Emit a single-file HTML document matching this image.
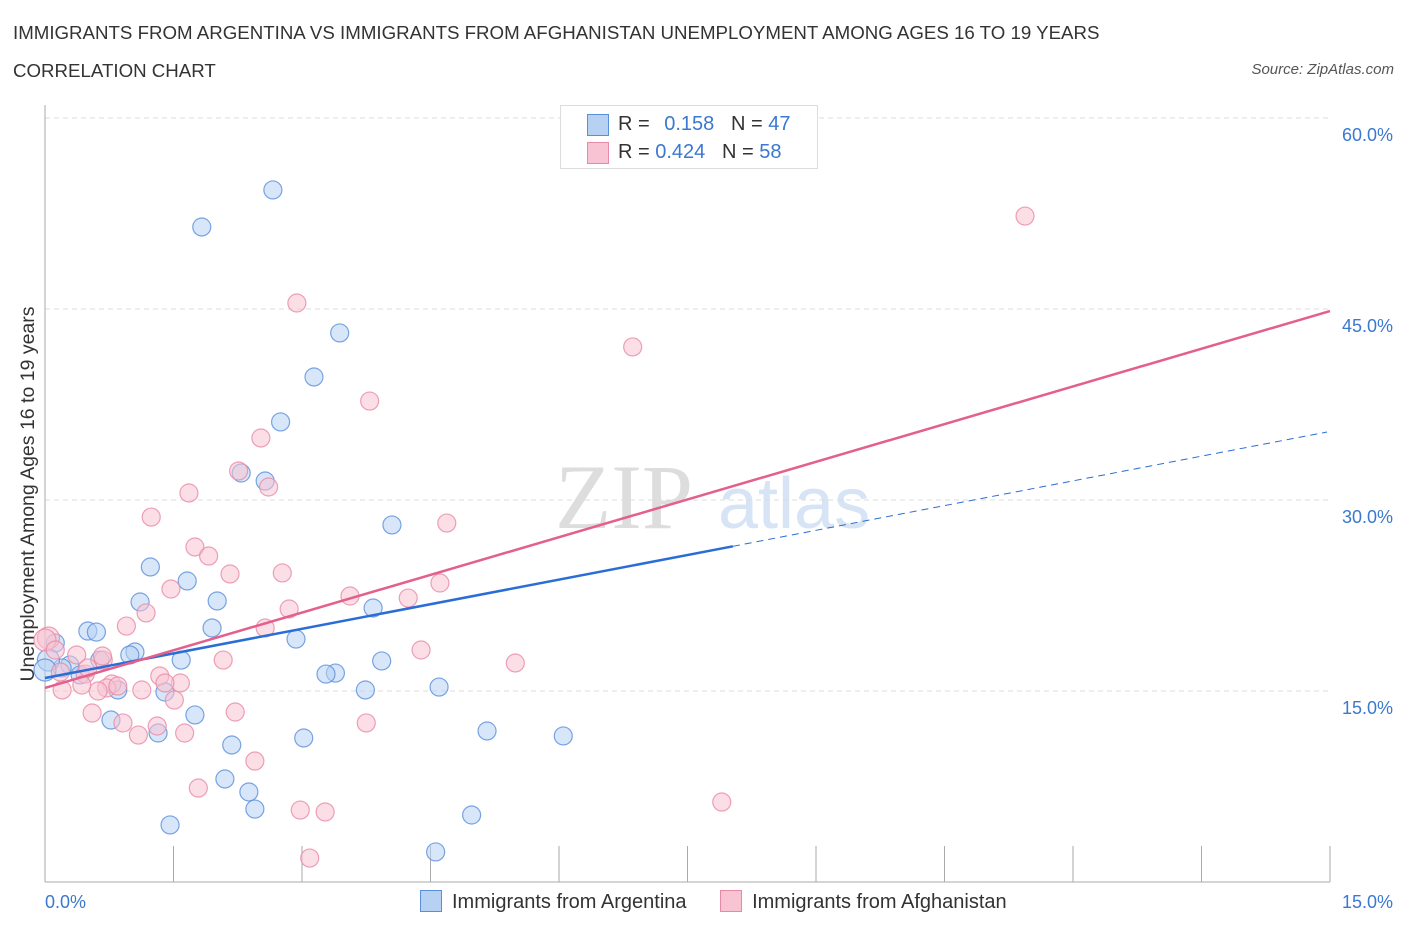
<!DOCTYPE html>
<html><head><meta charset="utf-8"><style>
body{margin:0;background:#fff;font-family:"Liberation Sans",sans-serif;}
#wrap{position:relative;width:1406px;height:930px;overflow:hidden;}
.t{position:absolute;white-space:nowrap;}
</style></head><body>
<div id="wrap">
<div class="t" style="left:13px;top:22px;font-size:18.7px;color:#333;">IMMIGRANTS FROM ARGENTINA VS IMMIGRANTS FROM AFGHANISTAN UNEMPLOYMENT AMONG AGES 16 TO 19 YEARS</div>
<div class="t" style="left:13px;top:60px;font-size:18.7px;color:#333;">CORRELATION CHART</div>
<div class="t" style="right:12px;top:61px;font-size:15px;color:#555;font-style:italic;">Source: ZipAtlas.com</div>
<svg id="svg" width="1406" height="930" style="position:absolute;left:0;top:0"></svg>
</div>
<script>
const xTicks=[0,1.5,3,4.5,6,7.5,9,10.5,12,13.5,15];
const yTicks=[15,30,45,60];
const yTickLabels=["15.0%","30.0%","45.0%","60.0%"];
const argX=[2.66,1.83,3.44,3.14,2.75,2.29,2.57,4.05,1.23,1.66,1.11,2.01,3.83,1.95,0.50,0.60,2.93,0.12,1.05,0.99,3.93,1.59,0.64,0.29,0.20,0.41,3.39,3.28,3.74,4.60,0.85,1.40,1.75,0.77,5.16,1.32,6.05,3.02,2.18,2.10,2.38,2.45,4.98,1.46,4.56,0.04,0.0];
const argY=[54.35,51.44,43.12,39.66,36.13,32.12,31.49,28.04,24.74,23.64,21.99,22.07,21.52,19.95,19.71,19.63,19.08,18.77,18.06,17.83,17.36,17.43,17.43,17.04,16.81,16.26,16.41,16.33,15.08,15.31,15.08,14.92,13.12,12.72,11.86,11.70,11.47,11.31,10.76,8.09,7.07,5.73,5.26,4.48,2.36,17.43,16.65];
const afgX=[11.44,2.94,6.86,3.79,2.52,2.26,2.61,1.68,1.24,4.69,1.75,1.91,2.16,2.77,1.47,4.61,3.56,4.24,2.85,1.18,0.95,2.57,4.39,5.49,2.08,0.68,0.04,0.37,0.67,0.18,0.47,0.50,1.34,1.58,1.40,0.78,0.72,0.85,0.62,1.13,0.20,0.43,1.51,0.55,2.22,0.91,1.31,3.75,1.63,1.09,2.45,1.79,2.98,3.27,7.90,3.09,0.0,0.12];
const afgY=[52.30,45.47,42.02,37.77,34.87,32.28,31.02,30.55,28.66,28.19,26.31,25.60,24.19,24.27,23.01,23.48,22.46,22.30,21.44,21.13,20.10,19.95,18.22,17.20,17.43,17.43,19.16,17.83,17.75,16.49,16.33,16.81,16.18,15.63,15.63,15.55,15.24,15.39,15.00,15.08,15.08,15.47,14.29,13.27,13.35,12.49,12.25,12.49,11.70,11.54,9.50,7.38,5.65,5.50,6.28,1.88,19.0,18.22];
const argTrend=[16.02,35.34], argSolidEnd=8.03;
const afgTrend=[15.24,44.84];
const X0=45,X1=1330,Y0=882,Y1=118;
const sx=v=>X0+(v/15)*(X1-X0), sy=v=>Y0-(v/60)*(Y0-Y1);
const svg=document.getElementById('svg');const NS='http://www.w3.org/2000/svg';
function mk(t,a,p){const e=document.createElementNS(NS,t);for(const k in a)e.setAttribute(k,a[k]);(p||svg).appendChild(e);return e;}
let w=mk('text',{x:555,y:528,'font-size':92,'font-family':'Liberation Serif,serif',fill:'#ddd'});w.textContent='ZIP';


w=mk('text',{x:718,y:528,'font-size':72,'font-family':'Liberation Sans,sans-serif',fill:'#d6e4f5'});w.textContent='atlas';


yTicks.forEach((v,i)=>{const g=mk('line',{x1:X0,x2:X1,y1:sy(v),y2:sy(v),stroke:'#ddd','stroke-dasharray':'5,4'});


const t=mk('text',{x:1393,y:sy(v)+23,'text-anchor':'end','font-size':18,fill:'#3b78d0'});t.textContent=yTickLabels[i];

});
let ax=mk('line',{x1:X0,x2:X0,y1:105,y2:Y0,stroke:'#aaa'});


ax=mk('line',{x1:X0,x2:X1,y1:Y0,y2:Y0,stroke:'#aaa'});


xTicks.forEach(v=>{const l=mk('line',{x1:sx(v),x2:sx(v),y1:846,y2:Y0,stroke:'#aaa'});

});
let t=mk('text',{x:45,y:908,'font-size':18,fill:'#3b78d0'});t.textContent='0.0%';


t=mk('text',{x:1393,y:908,'text-anchor':'end','font-size':18,fill:'#3b78d0'});t.textContent='15.0%';


t=mk('text',{x:0,y:0,'font-size':19.5,fill:'#333','text-anchor':'middle',transform:'translate(34,494) rotate(-90)'});t.textContent='Unemployment Among Ages 16 to 19 years';


function pts(xs,ys,fill,stroke,name){xs.forEach((x,i)=>{const big=(x<0.06);const c=mk('circle',{cx:sx(x),cy:sy(ys[i]),r:big?11:9,fill:fill,'fill-opacity':0.55,stroke:stroke,'stroke-width':1.2,'stroke-opacity':0.8});

});}
pts(argX,argY,'#b7d1f3','#5a8fdc','argentina-point');
pts(afgX,afgY,'#f8c3d2','#e889a6','afghanistan-point');
const ay=x=>argTrend[0]+(argTrend[1]-argTrend[0])*x/15;
let l=mk('line',{x1:sx(0),y1:sy(ay(0)),x2:sx(argSolidEnd),y2:sy(ay(argSolidEnd)),stroke:'#2a6dd6','stroke-width':2.5});


l=mk('line',{x1:sx(argSolidEnd),y1:sy(ay(argSolidEnd)),x2:sx(15)-3,y2:sy(ay(15)),stroke:'#2a6dd6','stroke-width':1,'stroke-dasharray':'7,5'});


l=mk('line',{x1:sx(0),y1:sy(afgTrend[0]),x2:sx(15),y2:sy(afgTrend[1]),stroke:'#e3608d','stroke-width':2.5});


</script>
<div class="t" style="left:560px;top:105px;width:256px;height:62px;border:1px solid #ddd;background:rgba(255,255,255,0.9);font-size:20px;">
 <div class="t" style="left:26px;top:8px;width:20px;height:20px;background:#b7d1f3;border:1px solid #5a8fdc;"></div>
 <div class="t" style="left:57px;top:7px;color:#333;">R = <span style="color:#3b78d0;margin-left:9px">0.158</span>&nbsp;&nbsp;&nbsp;N = <span style="color:#3b78d0">47</span></div>
 <div class="t" style="left:26px;top:36px;width:20px;height:20px;background:#f8c3d2;border:1px solid #e889a6;"></div>
 <div class="t" style="left:57px;top:35px;color:#333;">R = <span style="color:#3b78d0">0.424</span>&nbsp;&nbsp;&nbsp;N = <span style="color:#3b78d0">58</span></div>
</div>
<div class="t" style="left:420px;top:890px;font-size:20px;color:#333;">
 <span style="display:inline-block;width:20px;height:20px;background:#b7d1f3;border:1px solid #5a8fdc;vertical-align:-4px;margin-right:10px"></span>Immigrants from Argentina
 <span style="display:inline-block;width:20px;height:20px;background:#f8c3d2;border:1px solid #e889a6;vertical-align:-4px;margin:0 10px 0 28px"></span>Immigrants from Afghanistan
</div>
</body></html>
